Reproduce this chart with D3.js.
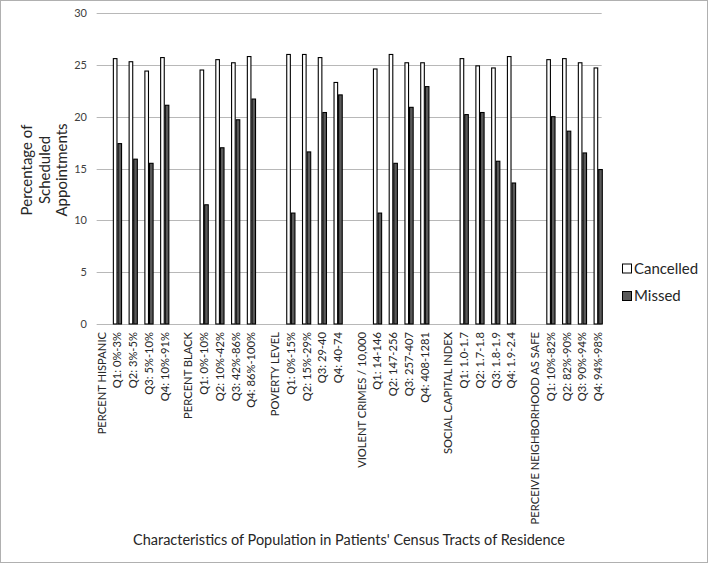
<!DOCTYPE html>
<html><head><meta charset="utf-8">
<script src="https://cdn.jsdelivr.net/npm/d3@7"></script>
<style>body{margin:0;background:#fff;}svg{display:block;font-family:Lato,"Open Sans",sans-serif;}</style>
</head><body>
<svg id="c" width="709" height="564"></svg>
<script>
const categories = [
 "PERCENT HISPANIC","Q1: 0%-3%","Q2: 3%-5%","Q3: 5%-10%","Q4: 10%-91%",
 "PERCENT BLACK","Q1: 0%-10%","Q2: 10%-42%","Q3: 42%-86%","Q4: 86%-100%",
 "POVERTY LEVEL","Q1: 0%-15%","Q2: 15%-29%","Q3: 29-40","Q4: 40-74",
 "VIOLENT CRIMES / 10,000","Q1: 14-146","Q2: 147-256","Q3: 257-407","Q4: 408-1281",
 "SOCIAL CAPITAL INDEX","Q1: 1.0-1.7","Q2: 1.7-1.8","Q3: 1.8-1.9","Q4: 1.9-2.4",
 "PERCEIVE NEIGHBORHOOD AS SAFE","Q1: 10%-82%","Q2: 82%-90%","Q3: 90%-94%","Q4: 94%-98%"
];
const cancelled = [
 null,25.6,25.3,24.4,25.7,
 null,24.5,25.5,25.2,25.8,
 null,26.0,26.0,25.7,23.3,
 null,24.6,26.0,25.2,25.2,
 null,25.6,24.9,24.7,25.8,
 null,25.5,25.6,25.2,24.7
];
const missed = [
 null,17.4,15.9,15.5,21.1,
 null,11.5,17.0,19.7,21.7,
 null,10.7,16.6,20.4,22.1,
 null,10.7,15.5,20.9,22.9,
 null,20.2,20.4,15.7,13.6,
 null,20.0,18.6,16.5,14.9
];
const yTicks = [0,5,10,15,20,25,30];
const seriesNames = ["Cancelled","Missed"];

const svg = d3.select("#c");
svg.append("rect").attr("x",0.5).attr("y",0.5).attr("width",707).attr("height",562)
  .attr("fill","#fff").attr("stroke","#b0b0b0").attr("stroke-width",1);

const slotOf = i => Math.floor(i/5)*5.5 + (i%5);
const x = d3.scaleLinear().domain([0,31.5]).range([101.7,598.2]);
const y = d3.scaleLinear().domain([0,30]).range([324,13]);
const left = x(-0.32), right = x(31.72);

svg.append("g").selectAll("line").data(yTicks).join("line")
  .attr("x1",left).attr("x2",right)
  .attr("y1",d=>Math.round(y(d))+0.5).attr("y2",d=>Math.round(y(d))+0.5)
  .attr("stroke","#b8b8b8").attr("stroke-width",1);

const yAxis = d3.axisLeft(y).tickValues(yTicks).tickSize(0).tickPadding(0);
const gy = svg.append("g").attr("transform",`translate(87,0)`).call(yAxis);
gy.select(".domain").remove();
gy.selectAll("text").attr("font-family","Lato").attr("font-size",11).attr("fill","#404040");

const bw = 4.6;
const data = categories.map((c,i)=>({c,i,can:cancelled[i],mis:missed[i]}));
const g = svg.append("g");
g.selectAll("rect.can").data(data.filter(d=>d.can!=null)).join("rect")
  .attr("class","can")
  .attr("x",d=>x(slotOf(d.i))-bw+0.5).attr("width",bw-1)
  .attr("y",d=>y(d.can)).attr("height",d=>y(0)-y(d.can))
  .attr("fill","#fff").attr("stroke","#000").attr("stroke-width",1.1);
g.selectAll("rect.mis").data(data.filter(d=>d.mis!=null)).join("rect")
  .attr("class","mis")
  .attr("x",d=>x(slotOf(d.i))+0.5).attr("width",bw-1)
  .attr("y",d=>y(d.mis)).attr("height",d=>y(0)-y(d.mis))
  .attr("fill","#595959").attr("stroke","#000").attr("stroke-width",1.1);

svg.append("g").selectAll("text").data(data).join("text")
  .attr("transform",d=>`translate(${x(slotOf(d.i))},332) rotate(-90)`)
  .attr("text-anchor","end").attr("dy","0.35em")
  .attr("font-family","Lato").attr("font-size",11.2).attr("fill","#262626")
  .text(d=>d.c);

const yt = svg.append("text").attr("transform","translate(27,170) rotate(-90)")
  .attr("text-anchor","middle").attr("font-family","Lato").attr("font-size",15).attr("fill","#262626");
["Percentage of","Scheduled","Appointments"].forEach((t,k)=>{
  yt.append("tspan").attr("x",0).attr("y",k*17.5).attr("dy","0.35em").text(t);
});

svg.append("text").attr("x",349).attr("y",545).attr("text-anchor","middle")
  .attr("font-family","Lato").attr("font-size",14.5).attr("fill","#262626")
  .text("Characteristics of Population in Patients' Census Tracts of Residence");

const lg = svg.append("g").selectAll("g").data(seriesNames).join("g")
  .attr("transform",(d,k)=>`translate(622,${268.5+k*27.5})`);
lg.append("rect").attr("x",0.5).attr("y",-4.5).attr("width",9).attr("height",9)
  .attr("fill",(d,k)=>k?"#595959":"#fff").attr("stroke","#000").attr("stroke-width",1);
lg.append("text").attr("x",12).attr("dy","0.35em")
  .attr("font-family","Lato").attr("font-size",15).attr("fill","#262626").text(d=>d);
</script>
</body></html>
